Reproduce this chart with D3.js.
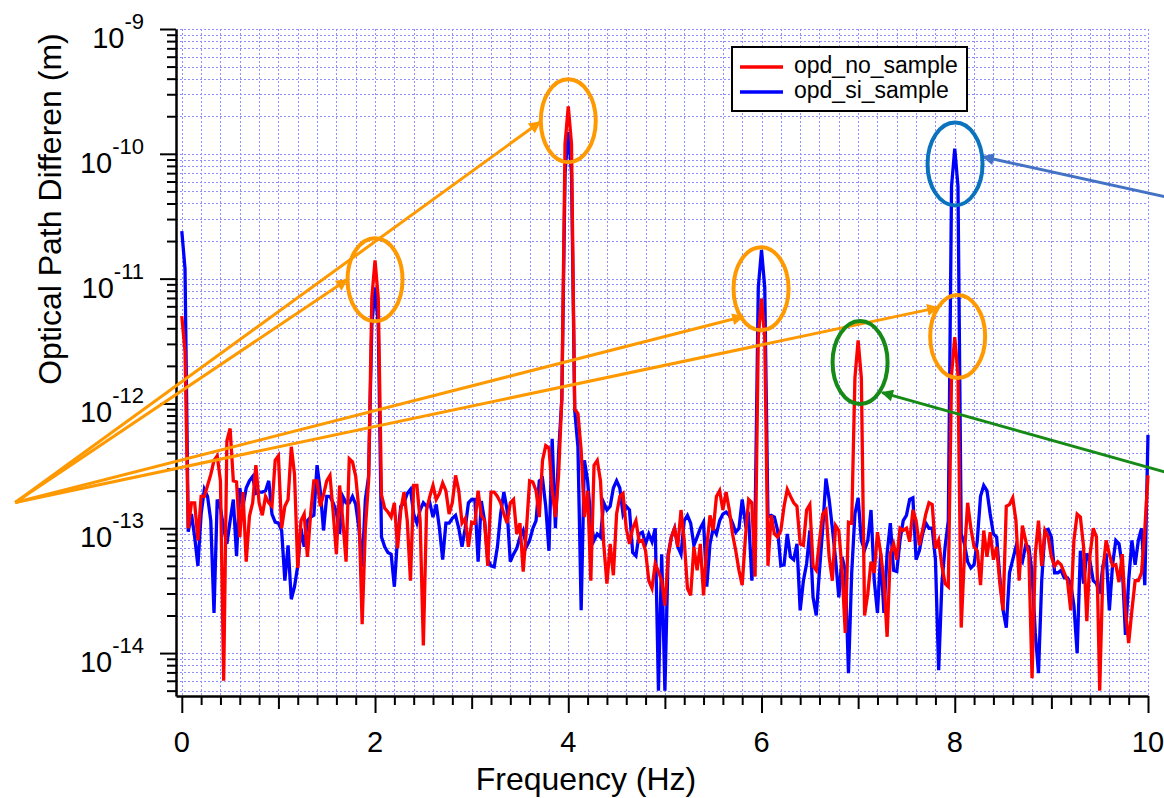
<!DOCTYPE html>
<html>
<head>
<meta charset="utf-8">
<script src="https://cdn.jsdelivr.net/npm/d3@7"></script>
<style>
  body { margin: 0; background: #fff; }
  svg { display: block; font-family: "Liberation Sans", Arial, sans-serif; }
</style>
</head>
<body>
<div id="chart"></div>
<script>
// spectrum bins: 0 .. 10 Hz, one bin every 1/30 Hz
const freqStart = 0;
const freqStep = 1 / 30;

const opdNoSample = [
  5e-12, 2.6e-12, 1e-13, 1.6e-13, 1.6e-13, 8e-14, 1.8e-13, 1.8e-13, 2.2e-13, 2.7e-13,
  3.5e-13, 3.8e-13, 2.4e-13, 6e-15, 5e-13, 6.3e-13, 2.4e-13, 2.35e-13, 8.5e-14, 1.95e-13,
  5.4e-14, 1.25e-13, 1.6e-13, 3.2e-13, 1.6e-13, 1.27e-13, 1.8e-13, 1.6e-13, 1.5e-13, 3.5e-13,
  3.8e-13, 1e-13, 1.5e-13, 1.7e-13, 4.5e-13, 2.7e-13, 4.8e-14, 1.15e-13, 1.3e-13, 5.9e-14,
  1.3e-13, 2.4e-13, 2.4e-13, 1.5e-13, 1.85e-13, 2.4e-13, 2.65e-13, 1.35e-13, 6.2e-14, 2.2e-13,
  1.15e-13, 5.4e-14, 3.6e-13, 3.4e-13, 2.6e-13, 1.4e-13, 1.7e-14, 1e-13, 2.4e-13, 7e-12,
  1.4e-11, 7e-12, 1.85e-13, 1.45e-13, 1.35e-13, 1.23e-13, 1.6e-13, 6.9e-14, 1.4e-13, 1.95e-13,
  1.15e-13, 3.8e-14, 2.2e-13, 2.2e-13, 1.15e-13, 1.15e-14, 1.4e-13, 1.8e-13, 2.2e-13, 1.7e-13,
  1.9e-13, 2.3e-13, 2e-13, 1.3e-13, 1.6e-13, 2.65e-13, 2e-13, 1.1e-13, 1.2e-13, 7.1e-14,
  1.12e-13, 1.1e-13, 2e-13, 1.27e-13, 1.15e-13, 5e-14, 1.95e-13, 1.95e-13, 1.8e-13, 1.6e-13,
  1.3e-13, 1.1e-13, 1.6e-13, 1.7e-13, 9e-14, 1.1e-13, 4.5e-14, 9.7e-14, 2.4e-13, 2.35e-13,
  2e-13, 1.23e-13, 3.5e-13, 4.6e-13, 4.4e-13, 2e-13, 1.23e-13, 2.7e-13, 1.1e-12, 1.2e-10,
  2.4e-10, 1.2e-10, 9e-13, 8.3e-13, 4.2e-13, 1.23e-13, 2e-13, 3.8e-14, 3.2e-13, 3.5e-13,
  2.4e-13, 7.5e-14, 3.6e-14, 7.5e-14, 4.2e-14, 1.3e-13, 1.8e-13, 1.9e-13, 1e-13, 7.5e-14,
  1e-13, 1.15e-13, 7.8e-14, 8e-14, 6.6e-14, 3.8e-14, 3.3e-14, 5.2e-14, 4.5e-14, 3.8e-14,
  2.4e-14, 5.9e-14, 8.5e-14, 1e-13, 7.1e-14, 1.4e-13, 8e-14, 3.3e-14, 2.9e-14, 7.1e-14,
  4.6e-14, 7.5e-14, 2.9e-14, 7.1e-14, 1.27e-13, 9.6e-14, 1.8e-13, 2e-13, 1.4e-13, 1.95e-13,
  1.4e-13, 9e-14, 6.6e-14, 4.6e-14, 3.5e-14, 8.5e-14, 1.7e-13, 1.6e-13, 4.1e-14, 3.4e-12,
  6.9e-12, 3.4e-12, 5e-14, 1.27e-13, 9e-14, 8.5e-14, 9.6e-14, 1.5e-13, 2.05e-13, 1.8e-13,
  1.6e-13, 1.5e-13, 7.5e-14, 7.3e-14, 1.4e-13, 1.55e-13, 5e-14, 4.6e-14, 8e-14, 1.3e-13,
  1.4e-13, 5.9e-14, 3.8e-14, 1.05e-13, 9.6e-14, 4.6e-14, 1.45e-14, 1.12e-13, 1.1e-13, 1.6e-12,
  3.2e-12, 1.6e-12, 2e-14, 3e-14, 5.4e-14, 4.4e-14, 9.3e-14, 6.3e-14, 3.8e-14, 1.35e-14,
  6.3e-14, 7.5e-14, 5.6e-14, 1e-13, 9.6e-14, 1e-13, 7.8e-14, 1.4e-13, 1.15e-13, 7.3e-14,
  9.6e-14, 1.3e-13, 1.6e-13, 1.55e-13, 6.9e-14, 8e-14, 5e-14, 3.6e-14, 3.4e-14, 1.7e-12,
  3.4e-12, 1.7e-12, 1.6e-14, 6.1e-14, 1.6e-13, 1e-13, 7.1e-14, 6.6e-14, 3.5e-14, 9.6e-14,
  5.9e-14, 9.3e-14, 5.6e-14, 7.1e-14, 3.6e-14, 2.2e-14, 1.5e-13, 1.55e-13, 1.75e-13, 1.15e-13,
  3.8e-14, 1.05e-13, 8e-14, 6.2e-14, 6.3e-15, 6.2e-14, 1.15e-13, 5e-14, 9.6e-14, 8.5e-14,
  5.9e-14, 5e-14, 5.4e-14, 5.1e-14, 4.4e-14, 3.8e-14, 2.2e-14, 8e-14, 1.3e-13, 1.23e-13,
  7.1e-14, 1.8e-14, 6.1e-14, 1e-13, 8.5e-14, 5e-15, 4.6e-14, 8e-14, 6.2e-14, 5e-14,
  5.1e-14, 3.7e-14, 6.2e-14, 2.2e-14, 1.2e-14, 2.2e-14, 3.8e-14, 3.8e-14, 4.4e-14, 9.6e-14,
  2.65e-13
];

const opdSiSample = [
  2.4e-11, 1.2e-11, 9.4e-14, 1.3e-13, 8.5e-14, 5e-14, 1.3e-13, 2.05e-13, 1.8e-13, 1.15e-13,
  2.1e-14, 1.7e-13, 1.45e-13, 1e-13, 7.5e-14, 1.15e-13, 1.7e-13, 6e-14, 2.1e-13, 1.5e-13,
  2.1e-13, 2.4e-13, 2.6e-13, 1.9e-13, 1.95e-13, 1.95e-13, 2e-13, 2.4e-13, 1.3e-13, 1.12e-13,
  1.1e-13, 9.6e-14, 3.8e-14, 7.3e-14, 2.7e-14, 3.4e-14, 5e-14, 1e-13, 7.1e-14, 1.15e-13,
  1.23e-13, 1.27e-13, 3.2e-13, 2e-13, 9.6e-14, 1.8e-13, 1.8e-13, 1.6e-13, 1.35e-13, 9e-14,
  1.8e-13, 1.6e-13, 1.6e-13, 1.8e-13, 1.55e-13, 1e-13, 4.9e-14, 1.7e-13, 2.6e-13, 4.2e-12,
  8.5e-12, 4.2e-12, 8.5e-14, 7.1e-14, 6.4e-14, 6.2e-14, 3.4e-14, 8.5e-14, 1.5e-13, 1.6e-13,
  1.9e-13, 2.05e-13, 1.3e-13, 1.1e-13, 1.4e-13, 1.6e-13, 1.5e-13, 1.6e-13, 1.23e-13, 1.55e-13,
  1e-13, 5.6e-14, 1.1e-13, 1.1e-13, 1.2e-13, 1.27e-13, 1e-13, 7.1e-14, 1e-13, 1.6e-13,
  1.7e-13, 1.7e-13, 5.4e-14, 1.65e-13, 1.15e-13, 5.6e-14, 5e-14, 4.9e-14, 7.1e-14, 1.3e-13,
  1.95e-13, 1.4e-13, 5.4e-14, 6.2e-14, 6.9e-14, 8.5e-14, 9.6e-14, 7.1e-14, 8e-14, 1e-13,
  1.15e-13, 2.4e-13, 2.5e-13, 1.5e-13, 6.6e-14, 5.2e-13, 1e-13, 4e-13, 1.1e-12, 7e-11,
  1.5e-10, 7e-11, 8.8e-13, 4.5e-13, 2.2e-14, 3.5e-13, 2.4e-13, 1.15e-13, 8e-14, 9e-14,
  8.5e-14, 1.6e-13, 1.4e-13, 1.5e-13, 2.1e-13, 2.4e-13, 2.1e-13, 1.3e-13, 1.5e-13, 1.4e-13,
  6.4e-14, 6e-14, 9e-14, 9.3e-14, 7.5e-14, 9e-14, 7.8e-14, 1e-13, 5e-15, 6.2e-14,
  5e-15, 6.2e-14, 8.5e-14, 1e-13, 7.1e-14, 6.2e-14, 1.15e-13, 1.27e-13, 1.1e-13, 7.3e-14,
  8.5e-14, 1e-13, 1.12e-13, 3.4e-14, 7.5e-14, 1e-13, 9e-14, 1.15e-13, 1.3e-13, 1.35e-13,
  1.27e-13, 1.1e-13, 9.3e-14, 1e-13, 1.7e-13, 1.1e-13, 1.23e-13, 3.8e-14, 1.1e-13, 8.5e-12,
  1.7e-11, 8.5e-12, 1.23e-13, 1.27e-13, 1.23e-13, 9.6e-14, 5e-14, 5.1e-14, 9e-14, 5.9e-14,
  5.6e-14, 7.5e-14, 2.2e-14, 3.8e-14, 5.2e-14, 9.6e-14, 2.8e-14, 2e-14, 4.6e-14, 1e-13,
  2.5e-13, 1.7e-13, 1e-13, 5.6e-14, 2.8e-14, 5.9e-14, 4.6e-14, 6.9e-15, 4.4e-14, 1.3e-13,
  1.75e-13, 8e-14, 6.7e-14, 8e-14, 1.4e-13, 3.8e-14, 2.1e-14, 6.3e-14, 2.1e-14, 6.3e-14,
  1.1e-13, 4.6e-14, 4.5e-14, 8e-14, 1.15e-13, 1.27e-13, 1.7e-13, 1.75e-13, 5.6e-14, 6.6e-14,
  9e-14, 1.1e-13, 1e-13, 1e-13, 5.6e-14, 7.3e-15, 3.6e-14, 7.1e-14, 1.15e-13, 5.5e-11,
  1.1e-10, 5.5e-11, 9e-14, 7.5e-14, 5.4e-14, 4.8e-14, 5.1e-14, 8e-14, 1.8e-13, 2.2e-13,
  2e-13, 1.3e-13, 9e-14, 8.5e-14, 4e-14, 2.2e-14, 1.6e-14, 4.4e-14, 5.6e-14, 7.1e-14,
  5.9e-14, 5.4e-14, 7.3e-14, 7.1e-14, 4.4e-14, 1.45e-14, 6.9e-15, 3.8e-14, 9.6e-14, 9.8e-14,
  8.5e-14, 4.4e-14, 4.4e-14, 4.6e-14, 4e-14, 4e-14, 3.6e-14, 2.4e-14, 1e-14, 6.6e-14,
  3.6e-14, 6.3e-14, 5.4e-14, 3.8e-14, 3.6e-14, 3e-14, 5e-14, 6.3e-14, 2.2e-14, 5.1e-14,
  8e-14, 7.5e-14, 5e-14, 1.4e-14, 3.8e-14, 8e-14, 5.1e-14, 8e-14, 1e-13, 3.5e-14,
  5.6e-13
];

const seriesNames = ["opd_no_sample", "opd_si_sample"];
const seriesColors = ["#ff0000", "#0000ff"];
const xTickLabels = [0, 2, 4, 6, 8, 10];
const yTickExponents = [-9, -10, -11, -12, -13, -14];

// hand-drawn callouts, in data coordinates (freq, opd)
const ringFreqs = [2.0, 4.0, 5.995, 8.03, 8.003, 7.02];
const ringValues = [9.8e-12, 1.84e-10, 8.3e-12, 3.44e-12, 8.3e-11, 2.13e-12];
const ringColors = ["#ff9900", "#ff9900", "#ff9900", "#ff9900", "#0b72bd", "#168a16"];
const arrows = [
  {from: [-1.724, 1.61e-13], to: [1.711, 9.8e-12], color: "#ff9900"},
  {from: [-1.724, 1.61e-13], to: [3.708, 1.8e-10], color: "#ff9900"},
  {from: [-1.724, 1.61e-13], to: [5.81, 4.97e-12], color: "#ff9900"},
  {from: [-1.724, 1.61e-13], to: [7.827, 5.86e-12], color: "#ff9900"},
  {from: [10.5, 4.0e-11], to: [8.292, 9.46e-11], color: "#4472c4"},
  {from: [10.5, 2.4e-13], to: [7.248, 1.22e-12], color: "#168a16"}
];

const W = 1164, H = 798;
const plot = {left: 176, right: 1148, top: 29, bottom: 696};

const svg = d3.select("#chart").append("svg")
    .attr("width", W)
    .attr("height", H);

const x = d3.scaleLinear().domain([-0.06, 10]).range([plot.left, plot.right]);
const y = d3.scaleLog().domain([4.53e-15, 1e-9]).range([plot.bottom, plot.top]);

const freqs = opdNoSample.map((_, i) => freqStart + i * freqStep);

// tick positions
const xTicks = d3.range(0, 51).map(i => i / 5);
const yTicks = [];
for (let e = -15; e <= -10; e++) {
    for (let m = 1; m <= 9; m++) {
        const v = m * Math.pow(10, e);
        if (v >= y.domain()[0]) yTicks.push(v);
    }
}
yTicks.push(1e-9);
const isDecade = v => Math.abs(Math.log10(v) - Math.round(Math.log10(v))) < 1e-6;

// dotted grid
const grid = svg.append("g")
    .attr("stroke", "#6a6aff")
    .attr("stroke-width", 1)
    .attr("stroke-dasharray", "2,2")
    .attr("opacity", 0.75);

grid.selectAll("line.vx")
    .data(xTicks)
    .join("line")
    .attr("class", "vx")
    .attr("x1", d => Math.round(x(d)) + 0.5)
    .attr("x2", d => Math.round(x(d)) + 0.5)
    .attr("y1", plot.top)
    .attr("y2", plot.bottom);

grid.selectAll("line.hy")
    .data(yTicks)
    .join("line")
    .attr("class", "hy")
    .attr("x1", plot.left)
    .attr("x2", plot.right)
    .attr("y1", d => Math.round(y(d)) + 0.5)
    .attr("y2", d => Math.round(y(d)) + 0.5);

// data traces
svg.append("clipPath").attr("id", "plot-clip")
    .append("rect")
    .attr("x", plot.left)
    .attr("y", plot.top)
    .attr("width", plot.right - plot.left + 2)
    .attr("height", plot.bottom - plot.top);

const line = d3.line()
    .x((d, i) => x(freqs[i]))
    .y(d => y(d));

const traces = svg.append("g").attr("clip-path", "url(#plot-clip)");
// blue drawn first, red sits on top
[[opdSiSample, seriesColors[1]], [opdNoSample, seriesColors[0]]].forEach(([vals, col]) => {
    traces.append("path")
        .datum(vals)
        .attr("fill", "none")
        .attr("stroke", col)
        .attr("stroke-width", 3.3)
        .attr("stroke-linejoin", "miter")
        .attr("d", line);
});

// axes
const yAxis = svg.append("g")
    .attr("transform", `translate(${plot.left},0)`)
    .call(d3.axisLeft(y).tickValues(yTicks).tickFormat("").tickSizeOuter(0));
yAxis.selectAll(".tick line")
    .attr("x2", d => isDecade(d) ? -16 : -9)
    .attr("stroke-width", 2);
yAxis.select(".domain").attr("stroke-width", 2.5);

const xAxis = svg.append("g")
    .attr("transform", `translate(0,${plot.bottom})`)
    .call(d3.axisBottom(x).tickValues(xTicks).tickFormat("").tickSizeOuter(0));
xAxis.selectAll(".tick line")
    .attr("y2", d => Math.abs(d - Math.round(d)) < 1e-6 ? (Math.round(d) % 2 === 0 ? 17 : 13) : 9)
    .attr("stroke-width", 2);
xAxis.select(".domain").attr("stroke-width", 2.5);

// y tick labels: 10 with superscript exponent
yTickExponents.forEach(e => {
    const t = svg.append("text")
        .attr("x", 144)
        .attr("y", y(Math.pow(10, e)) + 19)
        .attr("text-anchor", "end")
        .attr("fill", "#000");
    t.append("tspan").style("font-size", "29px").text("10");
    t.append("tspan").attr("dy", -19).style("font-size", "22px").text(String(e));
});

svg.selectAll("text.xlab")
    .data(xTickLabels)
    .join("text")
    .attr("class", "xlab")
    .attr("x", d => x(d))
    .attr("y", 752)
    .attr("text-anchor", "middle")
    .style("font-size", "29px")
    .text(d => d);

// axis titles
svg.append("text")
    .attr("x", 586)
    .attr("y", 790)
    .attr("text-anchor", "middle")
    .style("font-size", "32px")
    .text("Frequency (Hz)");

svg.append("text")
    .attr("transform", "translate(61,209) rotate(-90)")
    .attr("text-anchor", "middle")
    .style("font-size", "32px")
    .text("Optical Path Differen (m)");

// legend
const legend = svg.append("g").attr("transform", "translate(732,47)");
legend.append("rect")
    .attr("width", 235)
    .attr("height", 64)
    .attr("fill", "#fff")
    .attr("stroke", "#000")
    .attr("stroke-width", 2);
seriesNames.forEach((name, i) => {
    const ly = 20 + i * 25;
    legend.append("line")
        .attr("x1", 8).attr("x2", 51)
        .attr("y1", ly).attr("y2", ly)
        .attr("stroke", seriesColors[i])
        .attr("stroke-width", 3.5);
    legend.append("text")
        .attr("x", 62)
        .attr("y", ly + 6)
        .style("font-size", "23px")
        .text(name);
});

// callouts: arrows and rings
const defs = svg.append("defs");
const markerId = c => "head-" + c.replace("#", "");
Array.from(new Set(arrows.map(a => a.color))).forEach(c => {
    defs.append("marker")
        .attr("id", markerId(c))
        .attr("viewBox", "0 0 10 10")
        .attr("refX", 9)
        .attr("refY", 5)
        .attr("markerUnits", "userSpaceOnUse")
        .attr("markerWidth", 15)
        .attr("markerHeight", 12)
        .attr("orient", "auto")
        .append("path")
        .attr("d", "M0,0 L10,5 L0,10 z")
        .attr("fill", c);
});

svg.append("g").selectAll("line")
    .data(arrows)
    .join("line")
    .attr("x1", d => x(d.from[0]))
    .attr("y1", d => y(d.from[1]))
    .attr("x2", d => x(d.to[0]))
    .attr("y2", d => y(d.to[1]))
    .attr("stroke", d => d.color)
    .attr("stroke-width", 3)
    .attr("marker-end", d => `url(#${markerId(d.color)})`);

svg.append("g").selectAll("ellipse")
    .data(ringFreqs)
    .join("ellipse")
    .attr("cx", d => x(d))
    .attr("cy", (d, i) => y(ringValues[i]))
    .attr("rx", 27.5)
    .attr("ry", 41.5)
    .attr("fill", "none")
    .attr("stroke", (d, i) => ringColors[i])
    .attr("stroke-width", 4);
</script>
</body>
</html>
